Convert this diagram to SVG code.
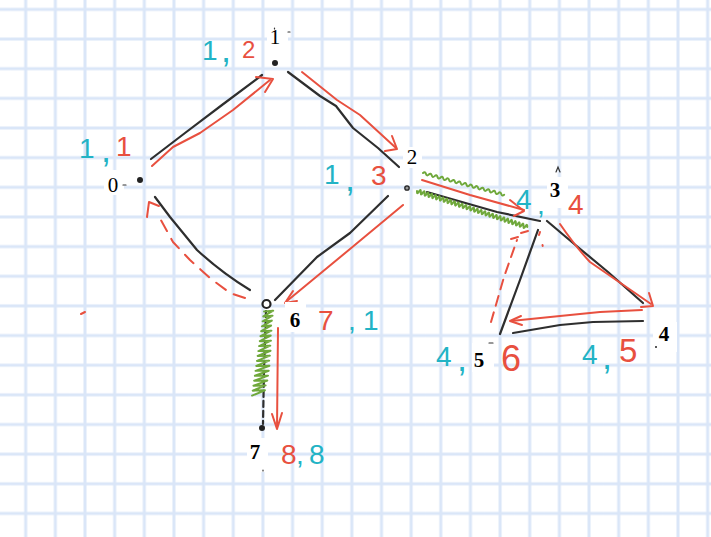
<svg xmlns="http://www.w3.org/2000/svg" width="711" height="537" viewBox="0 0 711 537">
<defs>
<pattern id="grid" patternUnits="userSpaceOnUse" x="10.875" y="-5.425" width="29.65" height="29.65">
<path d="M14.825,0 V29.65 M0,14.825 H29.65" stroke="#dae6f8" stroke-width="3" fill="none"/>
</pattern>
<style>
.edge{fill:none;stroke:#2e2e2e;stroke-width:2.2;stroke-linecap:round;stroke-linejoin:round}
.red{fill:none;stroke:#e8503f;stroke-width:2;stroke-linecap:round;stroke-linejoin:round}
.dash{stroke-dasharray:12 9}
.grn{fill:none;stroke:#6fa83b;stroke-width:2;stroke-linecap:round;stroke-linejoin:round}
.lbl{font-family:"Liberation Serif","Times New Roman",serif;font-size:21px;fill:#000;text-anchor:middle}
.b{font-weight:bold}
.hw{font-family:"Liberation Sans",Arial,sans-serif;font-size:28px}
.t{fill:#22b3c5}
.r{fill:#e8503f}
.c{font-size:36px}
.box{fill:#fff}
.dot{fill:#222}
.mark{fill:none;stroke:#333;stroke-width:1.2;stroke-linecap:round}
</style>
</defs>
<rect width="711" height="537" fill="#fff"/>
<rect width="711" height="537" fill="url(#grid)"/>

<g id="connectors">
<path class="edge" d="M151,159 L185,133 L222,105 L262,75"/>
<path class="edge" d="M288,72 L320,96 L336,106 L353,128 L378,148 L399,167"/>
<path class="edge" d="M155,197 L170,217 L197,250 Q222,273 250,290"/>
<path class="edge" d="M388,196 L350,233 L317,257 L275,300"/>
<path class="edge" d="M427,192 L497,212 L540,221"/>
<path class="edge" d="M547,221 L573,243 L608,272 L643,303"/>
<path class="edge" d="M538,230 L520,280 L500,334"/>
<path class="edge" d="M513,333 L560,325 L593,322 L643,321"/>
<path class="edge" d="M266,311 L264,370 L263,424" stroke-dasharray="6 4"/>
<path class="grn" transform="translate(423,173) rotate(15)" d="M0,0 q1.5,-2.5 3,0 t3,0 t3,0 t3,0 t3,0 t3,0 t3,0 t3,0 t3,0 t3,0 t3,0 t3,0 t3,0 t3,0 t3,0 t3,0 t3,0 t3,0 t3,0 t3,0 t3,0 t3,0 t3,0 t3,0 t3,0 t3,0 t3,0 t3,0"/>
<path class="grn" transform="translate(417,191) rotate(18.1)" d="M0,0 q1,4 2,0 t2,0 t2,0 t2,0 t2,0 t2,0 t2,0 t2,0 t2,0 t2,0 t2,0 t2,0 t2,0 t2,0 t2,0 t2,0 t2,0 t2,0 t2,0 t2,0 t2,0 t2,0 t2,0 t2,0 t2,0 t2,0 t2,0 t2,0 t2,0 t2,0 t2,0 t2,0 t2,0 t2,0 t2,0 t2,0 t2,0 t2,0 t2,0 t2,0 t2,0 t2,0 t2,0 t2,0 t2,0 t2,0 t2,0 t2,0 t2,0 t2,0 t2,0 t2,0 t2,0 t2,0 t2,0 t2,0 t2,0 t2,0"/>
<path class="grn" stroke-width="2.4" transform="translate(268,312) rotate(8.1)" d="M-4,0 l9,-2 l-9,7 l9,-2 l-9,7 l9,-2 l-9,7 l9,-2 l-9,7 l10,-2 l-10,7 l10,-2 l-10,7 l11,-2 l-11,7 l11,-2 l-11,7 l12,-2 l-12,7 l12,-2 l-12,7 l12,-2 l-12,7 l13,-2 l-13,7 l13,-2 l-13,7 l13,-2 l-13,7 l13,-2 l-13,7 l12,-2 l-12,7 l12,-2 l-12,7"/>
<path class="red" d="M152,166 L173,147 L200,133 L233,110 L270,80"/>
<path class="red" d="M256,77 L273,79 L265,92"/>
<path class="red" d="M302,72 L337,100 L360,115 L396,148"/>
<path class="red" d="M392,136 L397,149 L385,151"/>
<path class="red" d="M422,180 L470,195 L524,210"/>
<path class="red" d="M510,200 L524,211 L514,216"/>
<path class="red" d="M560,224 Q575,246 590,262 L651,304"/>
<path class="red" d="M649,293 L653,306 L641,307"/>
<path class="red" d="M642,310 L600,312 L560,316 L511,321"/>
<path class="red" d="M521,316 L510,321 L522,325"/>
<path class="red" d="M491,322 L504,277 L517,240" stroke-dasharray="10 7"/>
<path class="red" d="M511,239 L518,237 M521,233 L528,231 M540,232 L539,235 M542.5,245 L542.7,246"/>
<path class="red dash" d="M245,298 L230,293 L210,278 L190,260 L173,242 L157,213"/>
<path class="red" d="M147,217 L149,202 L159,206"/>
<path class="red" d="M403,205 L350,249 L287,301"/>
<path class="red" d="M293,291 L285,303 L297,301"/>
<path class="red" d="M278,328 L277,428"/>
<path class="red" d="M272,414 L277,429 L282,413"/>
<path class="red" d="M81,314 L85,312"/>
</g>

<g id="node0">
<rect class="box" x="104" y="170" width="20" height="25"/>
<circle class="dot" cx="140" cy="180" r="3"/>
<text class="lbl" x="113" y="192">0</text>
<path class="mark" d="M123,185 L126,185"/>
<text class="hw" y="158"><tspan class="t" x="79">1</tspan><tspan class="t c" x="101" y="162">,</tspan><tspan class="r" x="116" y="156">1</tspan></text>
</g>
<g id="node1">
<rect class="box" x="267" y="25" width="21" height="23"/>
<circle class="dot" cx="275" cy="63" r="3"/>
<text class="lbl" x="275" y="44">1</text>
<path class="mark" d="M274.5,28 L274.5,29 M288,32 L290,32"/>
<text class="hw" y="60"><tspan class="t" x="202">1</tspan><tspan class="t c" x="221" y="62">,</tspan><tspan class="r" x="242" y="58" font-size="24">2</tspan></text>
</g>
<g id="node2">
<rect class="box" x="403" y="147" width="19" height="21"/>
<circle cx="407" cy="188" r="2.2" fill="#999" stroke="#222" stroke-width="1.3"/>
<text class="lbl" x="412" y="164">2</text>
<text class="hw" y="184" font-size="30"><tspan class="t" x="324">1</tspan><tspan class="t c" x="345" y="191">,</tspan><tspan class="r" x="371" y="185">3</tspan></text>
</g>
<g id="node3">
<rect class="box" x="547" y="177" width="21" height="31"/>
<path class="mark" stroke-width="1.8" d="M556,172 L558,167 L560,172"/>
<text class="lbl b" x="555" y="197">3</text>
<text class="hw" y="209" font-size="32"><tspan class="t" x="516">4</tspan><tspan class="t" x="537" y="214" font-size="28">,</tspan><tspan class="r" x="568" y="214">4</tspan></text>
</g>
<g id="node4">
<rect class="box" x="653" y="322" width="24" height="30"/>
<circle class="dot" cx="656" cy="347" r="1"/>
<text class="lbl b" x="664" y="341">4</text>
<text class="hw" y="364" font-size="32"><tspan class="t" x="582">4</tspan><tspan class="t c" x="602" y="369">,</tspan><tspan class="r" x="619" y="362" font-size="33">5</tspan></text>
</g>
<g id="node5">
<rect class="box" x="472" y="343" width="22" height="29"/>
<path class="mark" d="M489,343 L493,343"/>
<text class="lbl b" x="479" y="367">5</text>
<text class="hw" y="366" font-size="31"><tspan class="t" x="436">4</tspan><tspan class="t c" x="457" y="371">,</tspan><tspan class="r" x="501" y="371" font-size="36">6</tspan></text>
</g>
<g id="node6">
<rect class="box" x="285" y="302" width="21" height="30"/>
<circle cx="266.5" cy="304" r="4" fill="#fff" stroke="#222" stroke-width="2.2"/>
<text class="lbl b" x="295" y="327">6</text>
<text class="hw" y="330" font-size="36"><tspan class="r" x="318">7</tspan><tspan class="t" x="348">,</tspan><tspan class="t" x="363">1</tspan></text>
</g>
<g id="node7">
<rect class="box" x="247" y="438" width="21" height="34"/>
<circle class="dot" cx="262" cy="428" r="3"/>
<text class="lbl b" x="255" y="459">7</text>
<path class="mark" d="M263,470 L263,471"/>
<text class="hw" y="464" font-size="35"><tspan class="r" x="281">8</tspan><tspan class="t" x="296">,</tspan><tspan class="t" x="309">8</tspan></text>
</g>
</svg>
